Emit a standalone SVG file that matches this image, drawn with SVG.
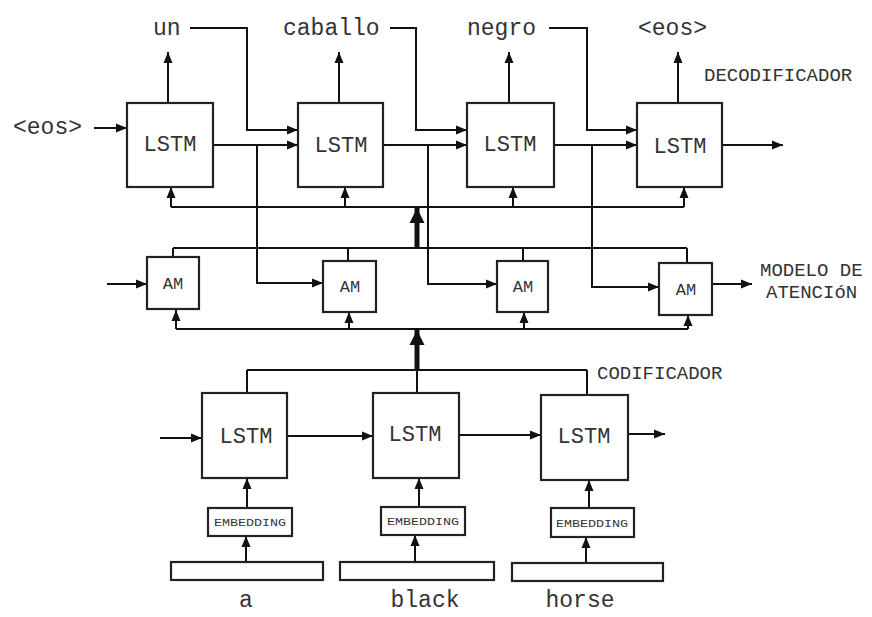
<svg xmlns="http://www.w3.org/2000/svg" width="872" height="617" viewBox="0 0 872 617">
<defs>
<marker id="ah" markerUnits="userSpaceOnUse" markerWidth="12" markerHeight="10" refX="11" refY="5" orient="auto"><path d="M0,0.5 L11,5 L0,9.5 z" fill="#111"/></marker>
<marker id="ahb" markerUnits="userSpaceOnUse" markerWidth="16" markerHeight="16" refX="15" refY="8" orient="auto"><path d="M0,0.5 L15,8 L0,15.5 z" fill="#111"/></marker>
<style>
.box{fill:#fff;stroke:#222;stroke-width:2.2}
.ln{fill:none;stroke:#111;stroke-width:2}
.ar{fill:none;stroke:#111;stroke-width:2;marker-end:url(#ah)}
.thick{fill:none;stroke:#111;stroke-width:5;marker-end:url(#ahb)}
.t{font-family:"Liberation Mono","Courier New",monospace;fill:#333}
.w{font-size:23px}
.lab{font-size:19px}
.lstm{font-size:22px;text-anchor:middle}
.am{font-size:17px;text-anchor:middle}
.emb{font-size:11px;text-anchor:middle}
</style>
</defs>
<rect width="872" height="617" fill="#fff"/>

<g id="connectors">
<line class="ar" x1="168" y1="103" x2="168" y2="52"/>
<line class="ar" x1="339" y1="103" x2="339" y2="52"/>
<line class="ar" x1="509" y1="103" x2="509" y2="52"/>
<line class="ar" x1="678" y1="103" x2="678" y2="52"/>
<polyline class="ar" points="190,28 247,28 247,130 298,130"/>
<polyline class="ar" points="390,28 416,28 416,130 467,130"/>
<polyline class="ar" points="549,28 587,28 587,130 637,130"/>
<line class="ar" x1="94" y1="128" x2="127" y2="128"/>
<line class="ar" x1="213" y1="145" x2="298" y2="145"/>
<line class="ar" x1="383" y1="145" x2="467" y2="145"/>
<line class="ar" x1="554" y1="145" x2="637" y2="145"/>
<line class="ar" x1="722" y1="145" x2="783" y2="145"/>
<polyline class="ar" points="257,145 257,283 323,283"/>
<polyline class="ar" points="428,145 428,284 497,284"/>
<polyline class="ar" points="592,145 592,287 659,287"/>
<line class="ar" x1="107" y1="284" x2="147" y2="284"/>
<line class="ar" x1="712" y1="284" x2="752" y2="284"/>
<line class="ln" x1="171" y1="207" x2="684" y2="207"/>
<line class="ar" x1="171" y1="207" x2="171" y2="187"/>
<line class="ar" x1="345" y1="207" x2="345" y2="187"/>
<line class="ar" x1="513" y1="207" x2="513" y2="187"/>
<line class="ar" x1="684" y1="207" x2="684" y2="187"/>
<line class="thick" x1="417" y1="248" x2="417" y2="208"/>
<line class="ln" x1="173" y1="248" x2="687" y2="248"/>
<line class="ln" x1="173" y1="248" x2="173" y2="257"/>
<line class="ln" x1="348" y1="248" x2="348" y2="261"/>
<line class="ln" x1="523" y1="248" x2="523" y2="261"/>
<line class="ln" x1="687" y1="248" x2="687" y2="263"/>
<line class="ln" x1="176" y1="329" x2="688" y2="329"/>
<line class="ar" x1="176" y1="329" x2="176" y2="310"/>
<line class="ar" x1="349" y1="329" x2="349" y2="312"/>
<line class="ar" x1="524" y1="329" x2="524" y2="312"/>
<line class="ar" x1="688" y1="329" x2="688" y2="315"/>
<line class="thick" x1="417" y1="370" x2="417" y2="330"/>
<line class="ln" x1="247" y1="370" x2="587" y2="370"/>
<line class="ln" x1="247" y1="370" x2="247" y2="393"/>
<line class="ln" x1="417" y1="370" x2="417" y2="393"/>
<line class="ln" x1="587" y1="370" x2="587" y2="395"/>
<line class="ar" x1="160" y1="438" x2="202" y2="438"/>
<line class="ar" x1="287" y1="436" x2="373" y2="436"/>
<line class="ar" x1="459" y1="435" x2="541" y2="435"/>
<line class="ar" x1="628" y1="434" x2="665" y2="434"/>
<line class="ar" x1="247" y1="508" x2="247" y2="478"/>
<line class="ar" x1="419" y1="507" x2="419" y2="478"/>
<line class="ar" x1="589" y1="508" x2="589" y2="480"/>
<line class="ar" x1="246" y1="562" x2="246" y2="536"/>
<line class="ar" x1="415" y1="562" x2="415" y2="535"/>
<line class="ar" x1="586" y1="563" x2="586" y2="537"/>
</g>

<g id="labels">
<text class="t w" x="153" y="35">un</text>
<text class="t w" x="283" y="35">caballo</text>
<text class="t w" x="467" y="35">negro</text>
<text class="t w" x="638" y="35">&lt;eos&gt;</text>
<text class="t w" x="13" y="134">&lt;eos&gt;</text>
<text class="t lab" x="704" y="81">DECODIFICADOR</text>
<text class="t lab" x="760" y="276">MODELO DE</text>
<text class="t lab" x="766" y="298">ATENCIóN</text>
<text class="t lab" x="597" y="379">CODIFICADOR</text>
<text class="t w" x="246" y="607" text-anchor="middle">a</text>
<text class="t w" x="425" y="607" text-anchor="middle">black</text>
<text class="t w" x="580" y="607" text-anchor="middle">horse</text>
</g>

<g id="dec1"><rect class="box" x="127" y="103" width="86" height="84"/><text class="t lstm" x="170" y="151">LSTM</text></g>
<g id="dec2"><rect class="box" x="298" y="103" width="85" height="84"/><text class="t lstm" x="341" y="152">LSTM</text></g>
<g id="dec3"><rect class="box" x="467" y="103" width="87" height="84"/><text class="t lstm" x="510" y="151">LSTM</text></g>
<g id="dec4"><rect class="box" x="637" y="103" width="85" height="84"/><text class="t lstm" x="680" y="153">LSTM</text></g>

<g id="am1"><rect class="box" x="147" y="257" width="52" height="52"/><text class="t am" x="173" y="289">AM</text></g>
<g id="am2"><rect class="box" x="323" y="261" width="53" height="51"/><text class="t am" x="350" y="292">AM</text></g>
<g id="am3"><rect class="box" x="497" y="261" width="51" height="51"/><text class="t am" x="523" y="292">AM</text></g>
<g id="am4"><rect class="box" x="659" y="263" width="53" height="52"/><text class="t am" x="686" y="295">AM</text></g>

<g id="enc1"><rect class="box" x="202" y="393" width="85" height="85"/><text class="t lstm" x="246" y="443">LSTM</text></g>
<g id="enc2"><rect class="box" x="373" y="393" width="86" height="85"/><text class="t lstm" x="415" y="441">LSTM</text></g>
<g id="enc3"><rect class="box" x="541" y="395" width="87" height="85"/><text class="t lstm" x="584" y="443">LSTM</text></g>

<g id="emb1"><rect class="box" x="208" y="508" width="84" height="28"/><text class="t emb" x="250" y="526" textLength="72" lengthAdjust="spacingAndGlyphs">EMBEDDING</text></g>
<g id="emb2"><rect class="box" x="381" y="507" width="84" height="28"/><text class="t emb" x="423" y="525" textLength="72" lengthAdjust="spacingAndGlyphs">EMBEDDING</text></g>
<g id="emb3"><rect class="box" x="551" y="508" width="83" height="29"/><text class="t emb" x="592" y="527" textLength="72" lengthAdjust="spacingAndGlyphs">EMBEDDING</text></g>

<g id="in1"><rect class="box" x="171" y="562" width="152" height="18"/></g>
<g id="in2"><rect class="box" x="340" y="562" width="154" height="18"/></g>
<g id="in3"><rect class="box" x="512" y="563" width="151" height="18"/></g>
</svg>
